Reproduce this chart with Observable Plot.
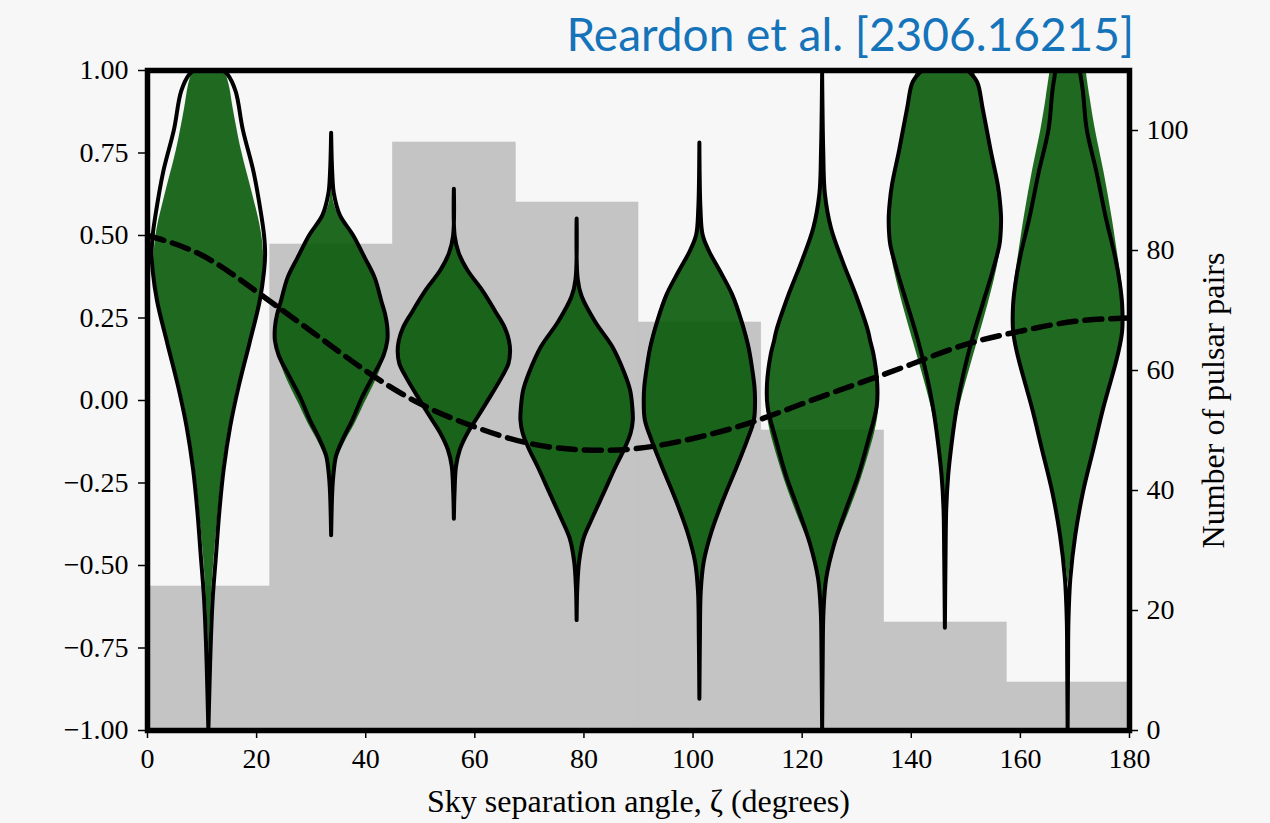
<!DOCTYPE html>
<html>
<head>
<meta charset="utf-8">
<script src="https://cdn.jsdelivr.net/npm/d3@7"></script>
<script src="https://cdn.jsdelivr.net/npm/@observablehq/plot@0.6"></script>
<style>
  html, body { margin: 0; padding: 0; background: #f7f7f7; }
  #chart { position: relative; width: 1270px; height: 823px; overflow: hidden; }
  #chart svg { position: absolute; left: 0; top: 0; }
  #title {
    position: absolute; right: 136px; top: 11px;
    font-family: Lato, "Open Sans", sans-serif; font-size: 46px; font-weight: 400; line-height: 1;
    color: #1473b9; white-space: nowrap;
  }
</style>
</head>
<body>
<div id="chart"></div>
<script>
// Angular bins of pulsar-pair separations (degrees) and pair counts per bin
const binEdges = [0, 22.5, 45, 67.5, 90, 112.5, 135, 157.5, 180];
const binCentres = [11.25, 33.75, 56.25, 78.75, 101.25, 123.75, 146.25, 168.75];
const pairCounts = [24, 81, 98, 88, 68, 50, 18, 8];

// Hellings–Downs expectation, sampled every 10 degrees
const hdAngles = [0, 10, 20, 30, 40, 50, 60, 70, 80, 90, 100, 110, 120, 130, 140, 150, 160, 170, 180];
const hdValues = [0.50, 0.44, 0.33, 0.21, 0.09, -0.01, -0.08, -0.13, -0.15, -0.145, -0.115, -0.07, -0.01, 0.05, 0.11, 0.17, 0.21, 0.24, 0.25];

// Violin profiles per bin: [correlation, half-width in degrees]
const fillProfiles = [
  [[1.0, 3.0], [0.95, 3.8], [0.88, 4.5], [0.755, 6.0], [0.626, 8.0], [0.52, 9.5], [0.45, 10.0], [0.38, 9.9], [0.30, 9.2], [0.17, 7.3], [0.045, 5.3], [-0.08, 3.7], [-0.21, 2.5], [-0.34, 1.7], [-0.47, 1.0], [-0.60, 0.45], [-0.72, 0.15], [-0.80, 0]],
  [[0.66, 0], [0.60, 0.4], [0.55, 1.6], [0.50, 3.7], [0.43, 6.1], [0.37, 8.0], [0.30, 9.3], [0.26, 9.9], [0.22, 10.3], [0.17, 10.2], [0.12, 9.5], [0.05, 7.8], [-0.01, 6.0], [-0.07, 4.3], [-0.13, 2.3], [-0.18, 1.0], [-0.24, 0.4], [-0.30, 0]],
  [[0.55, 0], [0.47, 0.4], [0.43, 1.2], [0.39, 2.6], [0.33, 5.2], [0.26, 7.7], [0.22, 9.2], [0.18, 10.0], [0.14, 10.2], [0.10, 9.8], [0.06, 8.6], [0.01, 6.9], [-0.06, 4.3], [-0.11, 2.4], [-0.16, 1.0], [-0.21, 0.35], [-0.26, 0]],
  [[0.42, 0], [0.35, 0.4], [0.30, 1.2], [0.237, 3.5], [0.16, 6.7], [0.08, 8.9], [0.03, 9.8], [-0.02, 10.2], [-0.06, 10.3], [-0.10, 9.9], [-0.15, 8.7], [-0.20, 7.1], [-0.28, 4.8], [-0.36, 2.6], [-0.42, 1.1], [-0.48, 0.35], [-0.54, 0]],
  [[0.62, 0], [0.50, 0.6], [0.45, 1.9], [0.39, 4.0], [0.32, 6.3], [0.24, 8.0], [0.16, 9.3], [0.08, 10.0], [0.02, 10.3], [-0.04, 10.2], [-0.09, 9.6], [-0.14, 8.6], [-0.20, 7.2], [-0.30, 4.7], [-0.40, 2.4], [-0.49, 0.9], [-0.56, 0.3], [-0.62, 0]],
  [[0.80, 0], [0.62, 0.5], [0.52, 1.5], [0.42, 3.5], [0.315, 6.0], [0.21, 8.2], [0.13, 9.3], [0.06, 10.0], [0.0, 10.3], [-0.05, 10.1], [-0.10, 9.5], [-0.16, 8.5], [-0.24, 7.0], [-0.34, 4.8], [-0.44, 2.4], [-0.54, 0.8], [-0.62, 0.25], [-0.70, 0]],
  [[1.0, 5.3], [0.95, 6.0], [0.886, 6.9], [0.756, 8.4], [0.652, 9.8], [0.60, 10.2], [0.55, 10.4], [0.50, 10.4], [0.45, 10.0], [0.39, 9.3], [0.29, 7.8], [0.185, 6.0], [0.08, 4.2], [-0.02, 2.6], [-0.13, 1.3], [-0.23, 0.5], [-0.30, 0]],
  [[1.0, 3.3], [0.92, 4.0], [0.82, 5.0], [0.69, 6.6], [0.56, 8.0], [0.43, 9.2], [0.35, 9.9], [0.287, 10.2], [0.23, 10.1], [0.17, 9.5], [0.108, 8.6], [-0.02, 6.4], [-0.15, 4.5], [-0.28, 2.6], [-0.41, 1.2], [-0.50, 0.4], [-0.56, 0]]
];
const outlineProfiles = [
  [[1.0, 2.6], [0.987, 3.5], [0.935, 5.0], [0.82, 6.3], [0.69, 8.3], [0.56, 9.7], [0.50, 10.2], [0.445, 10.4], [0.39, 10.2], [0.30, 9.4], [0.17, 7.5], [0.045, 5.6], [-0.08, 4.0], [-0.21, 2.8], [-0.34, 2.0], [-0.47, 1.4], [-0.60, 0.8], [-0.73, 0.45], [-0.87, 0.2], [-1.0, 0]],
  [[0.81, 0], [0.69, 0.2], [0.626, 0.5], [0.56, 1.6], [0.50, 4.0], [0.43, 6.2], [0.37, 8.0], [0.30, 9.2], [0.26, 9.9], [0.22, 10.3], [0.18, 10.3], [0.135, 9.6], [0.07, 7.6], [0.006, 5.6], [-0.06, 3.9], [-0.12, 2.1], [-0.17, 0.9], [-0.23, 0.4], [-0.28, 0.2], [-0.41, 0]],
  [[0.64, 0], [0.497, 0.15], [0.445, 0.9], [0.393, 2.5], [0.33, 5.3], [0.263, 7.8], [0.22, 9.3], [0.18, 10.1], [0.147, 10.3], [0.11, 10.0], [0.07, 8.8], [0.017, 6.9], [-0.05, 4.4], [-0.10, 2.5], [-0.15, 1.1], [-0.20, 0.4], [-0.28, 0.12], [-0.36, 0]],
  [[0.55, 0], [0.367, 0.2], [0.315, 0.9], [0.237, 3.4], [0.16, 6.6], [0.082, 8.75], [0.03, 9.8], [-0.02, 10.2], [-0.06, 10.3], [-0.10, 9.9], [-0.15, 8.7], [-0.20, 7.2], [-0.28, 5.0], [-0.36, 2.8], [-0.42, 1.25], [-0.49, 0.45], [-0.57, 0.12], [-0.667, 0]],
  [[0.78, 0], [0.58, 0.2], [0.50, 0.6], [0.45, 1.8], [0.39, 3.8], [0.32, 6.0], [0.24, 7.7], [0.16, 9.0], [0.08, 9.8], [0.04, 10.1], [0.0, 10.2], [-0.06, 10.0], [-0.12, 8.8], [-0.20, 6.9], [-0.30, 4.4], [-0.40, 2.2], [-0.49, 0.8], [-0.58, 0.25], [-0.72, 0.1], [-0.905, 0]],
  [[0.99, 0], [0.756, 0.2], [0.626, 0.5], [0.523, 1.6], [0.42, 3.75], [0.315, 6.25], [0.21, 8.4], [0.18, 8.8], [0.14, 9.4], [0.05, 10.1], [-0.02, 10.0], [-0.125, 8.4], [-0.23, 6.6], [-0.33, 4.4], [-0.437, 2.2], [-0.54, 0.75], [-0.64, 0.25], [-0.80, 0.1], [-1.0, 0]],
  [[1.0, 4.1], [0.964, 5.9], [0.886, 6.9], [0.756, 8.4], [0.652, 9.7], [0.60, 10.1], [0.55, 10.3], [0.50, 10.2], [0.47, 10.0], [0.39, 8.75], [0.29, 6.9], [0.185, 5.0], [0.08, 3.4], [-0.02, 2.2], [-0.13, 1.25], [-0.23, 0.6], [-0.33, 0.25], [-0.476, 0.12], [-0.69, 0]],
  [[1.0, 2.2], [0.935, 2.8], [0.82, 3.5], [0.69, 5.3], [0.56, 6.9], [0.43, 8.75], [0.35, 9.6], [0.287, 10.0], [0.21, 10.0], [0.16, 9.5], [0.108, 8.75], [-0.02, 6.6], [-0.15, 4.7], [-0.28, 2.8], [-0.41, 1.4], [-0.54, 0.5], [-0.67, 0.15], [-0.80, 0.08], [-1.0, 0]]
];

// Axis ticks and titles
const angleTicks = [0, 20, 40, 60, 80, 100, 120, 140, 160, 180];
const corrTicks = [-1, -0.75, -0.5, -0.25, 0, 0.25, 0.5, 0.75, 1];
const pairTicks = [0, 20, 40, 60, 80, 100];
const xTitle = "Sky separation angle, ζ (degrees)";
const pairTitle = "Number of pulsar pairs";

const W = 1270, H = 823;
const margins = {marginLeft: 147, marginRight: 141, marginTop: 70, marginBottom: 93};
const serif = "'Liberation Serif', 'DejaVu Serif', serif";

const histRows = pairCounts.map((n, i) => ({x1: binEdges[i], x2: binEdges[i + 1], n}));
const hdRows = hdAngles.map((a, i) => ({angle: a, value: hdValues[i]}));
const toRows = (profiles) => profiles.flatMap((p, i) =>
  p.map(([value, half]) => ({bin: i, centre: binCentres[i], value, half})));
const fillRows = toRows(fillProfiles);
const outlineRows = toRows(outlineProfiles);

// Back layer: pair-count histogram on its own (right-hand) scale
const back = Plot.plot({
  width: W, height: H, ...margins,
  style: {background: "#f7f7f7", fontFamily: serif, fontSize: "28px", color: "black"},
  x: {domain: [0, 180], axis: null},
  y: {domain: [0, 110], axis: null},
  marks: [
    Plot.rectY(histRows, {x1: "x1", x2: "x2", y: "n", fill: "#c4c4c4", stroke: "#c4c4c4", strokeWidth: 0.6}),
    Plot.axisY({anchor: "right", ticks: pairTicks, tickFormat: d => String(d), tickSize: 8, tickPadding: 9,
      strokeWidth: 1.5, label: null}),
    Plot.text([pairTitle], {frameAnchor: "right", dx: 84, rotate: -90, textAnchor: "middle", lineAnchor: "middle", fontSize: 32})
  ]
});

// Front layer: correlation violins, Hellings–Downs curve, axes and frame
const violinX = {y: "value", x1: d => d.centre - d.half, x2: d => d.centre + d.half, z: "bin", curve: "catmull-rom", clip: true};
const front = Plot.plot({
  width: W, height: H, ...margins,
  style: {background: "transparent", fontFamily: serif, fontSize: "28px", color: "black"},
  x: {domain: [0, 180]},
  y: {domain: [-1, 1]},
  marks: [
    Plot.areaX(fillRows, {...violinX, fill: "rgb(0,84,0)", fillOpacity: 0.87}),
    Plot.areaX(outlineRows, {...violinX, fill: "none", stroke: "black", strokeWidth: 4, strokeLinejoin: "round"}),
    Plot.line(hdRows, {x: "angle", y: "value", stroke: "black", strokeWidth: 5.5, strokeDasharray: "17,9", curve: "natural", clip: true}),
    Plot.axisY({ticks: corrTicks, tickFormat: d3.format(".2f"), tickSize: 9, tickPadding: 10, strokeWidth: 1.5, label: null}),
    Plot.axisX({ticks: angleTicks, tickSize: 8, tickPadding: 10, strokeWidth: 1.5, label: null}),
    Plot.text([xTitle], {frameAnchor: "bottom", dy: 71, lineAnchor: "middle", fontSize: 32}),
    Plot.frame({stroke: "black", strokeWidth: 5.5})
  ]
});

const chart = document.getElementById("chart");
chart.append(back, front);
const title = document.createElement("div");
title.id = "title";
title.textContent = "Reardon et al. [2306.16215]";
chart.append(title);
</script>
</body>
</html>
